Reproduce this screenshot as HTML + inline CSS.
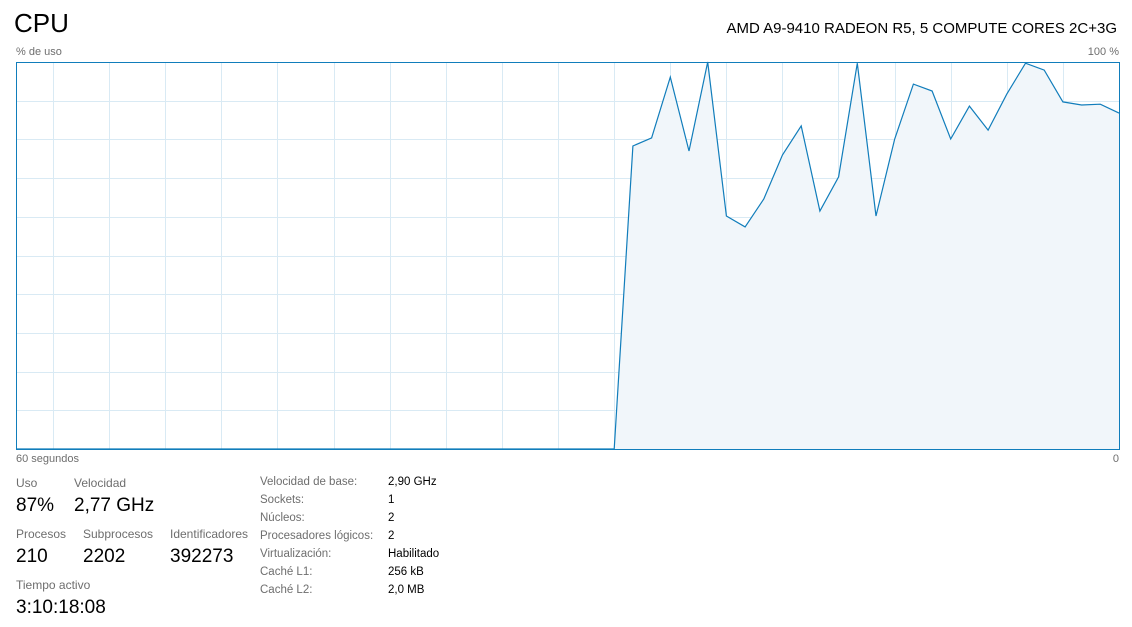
<!DOCTYPE html>
<html><head><meta charset="utf-8"><style>
body{margin:0;width:1132px;height:627px;background:#fff;font-family:"Liberation Sans",sans-serif;position:relative;overflow:hidden}
.a{position:absolute;white-space:nowrap}
.l{font-size:12px;color:#6e6e6e}
.v{font-size:19px;color:#000}
.s{font-size:11.5px}
</style></head><body>
<div class="a" style="left:14px;top:8px;font-size:26px">CPU</div>
<div class="a" style="right:15px;top:20px;font-size:15px">AMD A9-9410 RADEON R5, 5 COMPUTE CORES 2C+3G</div>
<div class="a l" style="left:16px;top:46px;font-size:11px">% de uso</div>
<div class="a l" style="right:13px;top:46px;font-size:11px">100 %</div>
<div class="a l" style="left:16px;top:453px;font-size:11px">60 segundos</div>
<div class="a l" style="right:13px;top:453px;font-size:11px">0</div>
<svg class="a" style="left:0;top:0" width="1132" height="627">
<g id="grid"></g><g id="series"></g>
<rect x="16.5" y="62.5" width="1103" height="387" fill="none" stroke="#117dbb" stroke-width="1"/>
</svg>
<div class="a l" style="left:16px;top:476px">Uso</div>
<div class="a v" style="left:16px;top:495px">87%</div>
<div class="a l" style="left:74px;top:476px">Velocidad</div>
<div class="a v" style="left:74px;top:495px">2,77 GHz</div>
<div class="a l" style="left:16px;top:527px">Procesos</div>
<div class="a v" style="left:16px;top:546px">210</div>
<div class="a l" style="left:83px;top:527px">Subprocesos</div>
<div class="a v" style="left:83px;top:546px">2202</div>
<div class="a l" style="left:170px;top:527px">Identificadores</div>
<div class="a v" style="left:170px;top:546px">392273</div>
<div class="a l" style="left:16px;top:578px">Tiempo activo</div>
<div class="a v" style="left:16px;top:597px">3:10:18:08</div>
<div id="specs"></div>
<script>
const usage=[0,0,0,0,0,0,0,0,0,0,0,0,0,0,0,0,0,0,0,0,0,0,0,0,0,0,0,0,0,0,0,0,0,
78.3,80.4,96.1,77,100,60.2,57.4,64.6,76,83.5,61.5,70.3,99.7,60.2,80.1,94.3,92.5,80.1,88.6,82.4,91.7,99.7,97.9,89.7,88.9,89.1,86.8];
const specLabels=["Velocidad de base:","Sockets:","Núcleos:","Procesadores lógicos:","Virtualización:","Caché L1:","Caché L2:"];
const specValues=["2,90 GHz","1","2","2","Habilitado","256 kB","2,0 MB"];
const L=16,T=62,W=1103,H=387,NS="http://www.w3.org/2000/svg";
const xs=i=>L+i*W/(usage.length-1), ys=v=>T+H-v/100*H;
const g=document.getElementById('grid');
for(let k=1;k<10;k++){const y=Math.round(T+k*H/10)+.5;const ln=document.createElementNS(NS,'line');


ln.setAttribute('x1',L);ln.setAttribute('x2',L+W);ln.setAttribute('y1',y);ln.setAttribute('y2',y);ln.setAttribute('stroke','#d9eaf4');g.appendChild(ln);}
for(let x=53;x<L+W;x+=56.1){const xx=Math.round(x)+.5;const ln=document.createElementNS(NS,'line');


ln.setAttribute('x1',xx);ln.setAttribute('x2',xx);ln.setAttribute('y1',T);ln.setAttribute('y2',T+H);ln.setAttribute('stroke','#d9eaf4');g.appendChild(ln);}
const s=document.getElementById('series');
let pts=usage.map((v,i)=>xs(i).toFixed(1)+','+ys(v).toFixed(1)).join(' ');
const area=document.createElementNS(NS,'polygon');


area.setAttribute('points',xs(0)+','+ys(0)+' '+pts+' '+xs(usage.length-1)+','+ys(0));
area.setAttribute('fill','#f1f6fa');s.appendChild(area);
const line=document.createElementNS(NS,'polyline');


line.setAttribute('points',pts);line.setAttribute('fill','none');line.setAttribute('stroke','#117dbb');line.setAttribute('stroke-width','1.2');s.appendChild(line);
const sp=document.getElementById('specs');
specLabels.forEach((t,i)=>{const a=document.createElement('div');


a.className='a l s';a.style.left='260px';a.style.top=(476+i*18)+'px';a.textContent=t;sp.appendChild(a);
const b=document.createElement('div');


b.className='a s';b.style.left='388px';b.style.top=(476+i*18)+'px';b.textContent=specValues[i];sp.appendChild(b);});
</script>
</body></html>
